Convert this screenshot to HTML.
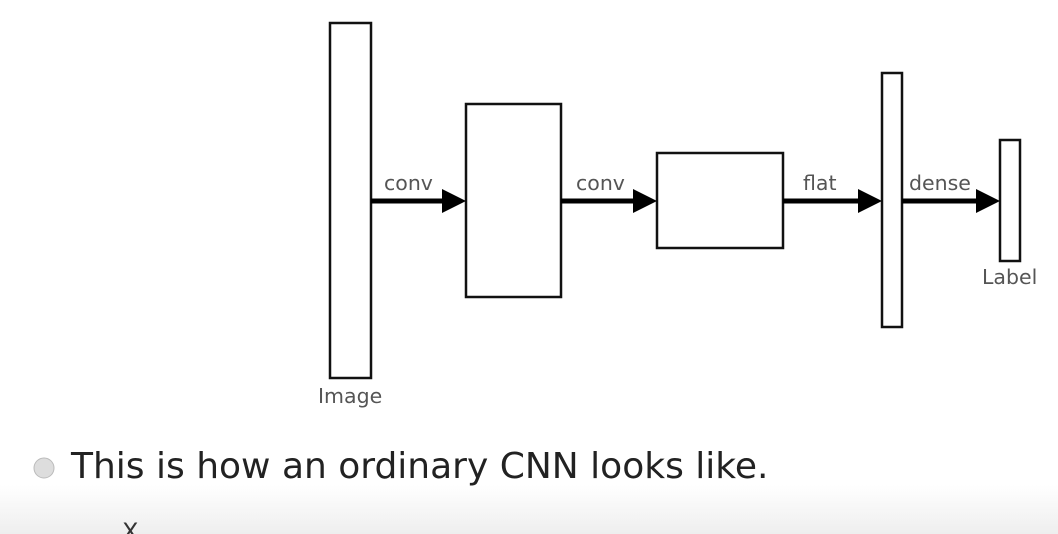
<!DOCTYPE html>
<html><head><style>
html,body{margin:0;padding:0;width:1058px;height:534px;overflow:hidden;background:#fff}
.bg{position:absolute;left:0;top:485px;width:1058px;height:49px;background:linear-gradient(#fff,#eeeeee)}
svg{position:absolute;left:0;top:0}
</style></head><body>
<div class="bg"></div>
<svg width="1058" height="534" font-family="'DejaVu Sans','Liberation Sans',sans-serif">
<g fill="none" stroke="#111" stroke-width="2.5">
<rect x="330" y="23" width="41" height="355"/>
<rect x="466" y="104" width="95" height="193"/>
<rect x="657" y="153" width="126" height="95"/>
<rect x="882" y="73" width="20" height="254"/>
<rect x="1000" y="140" width="20" height="121"/>
</g>
<g stroke="#000" stroke-width="5">
<line x1="371" y1="201" x2="445" y2="201"/>
<line x1="561" y1="201" x2="636" y2="201"/>
<line x1="783" y1="201" x2="860" y2="201"/>
<line x1="902" y1="201" x2="978" y2="201"/>
</g>
<g fill="#000">
<polygon points="442,189 466,201 442,213"/>
<polygon points="633,189 657,201 633,213"/>
<polygon points="858,189 882,201 858,213"/>
<polygon points="976,189 1000,201 976,213"/>
</g>
<g fill="#555" font-size="20.5">
<text x="384" y="190">conv</text>
<text x="576" y="190">conv</text>
<text x="803" y="190">flat</text>
<text x="909" y="190">dense</text>
<text x="982" y="284">Label</text>
<text x="318" y="403">Image</text>
</g>
<circle cx="44" cy="468" r="10" fill="#ddd" stroke="#bbb"/>
<text x="71" y="478" font-size="36" fill="#222">This is how an ordinary CNN looks like.</text>
<text x="122" y="540" font-size="24" fill="#333">X</text>
</svg>
</body></html>
